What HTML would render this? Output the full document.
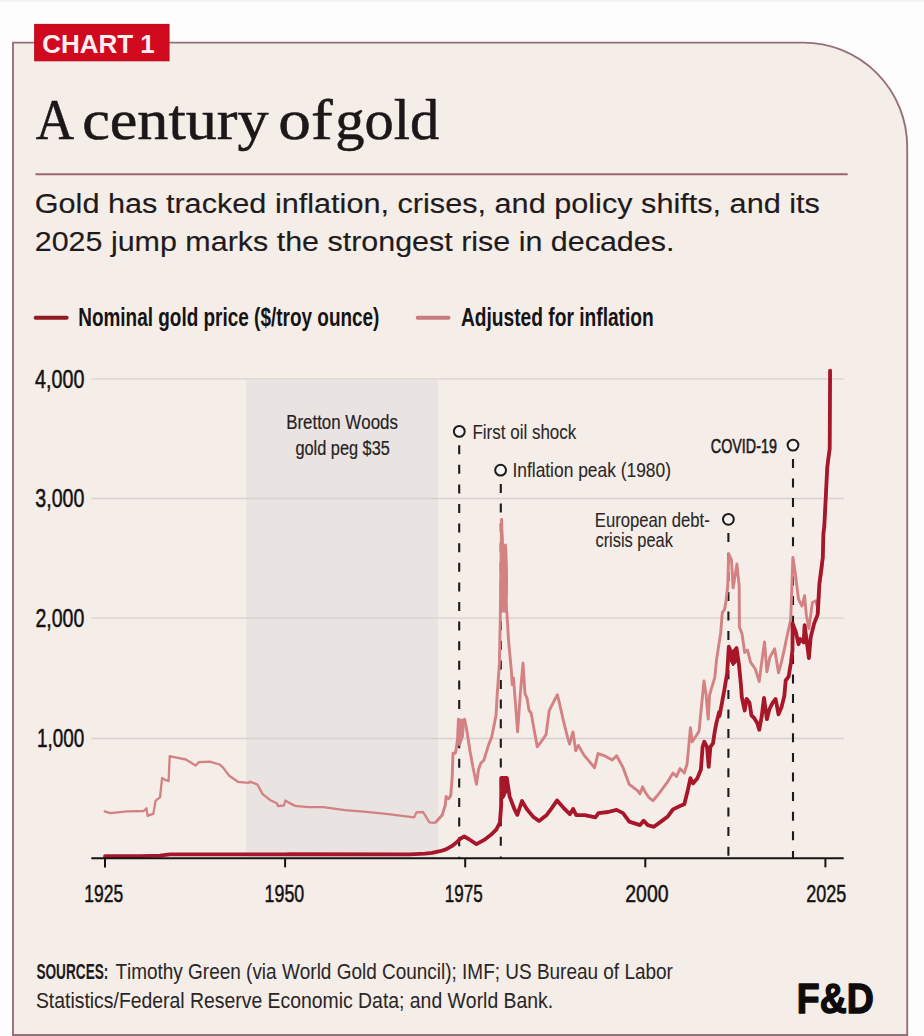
<!DOCTYPE html>
<html><head><meta charset="utf-8"><title>A century of gold</title>
<style>
html,body{margin:0;padding:0;background:#fefdfd;}
body{width:924px;height:1036px;overflow:hidden;position:relative;}
svg{position:absolute;left:0;top:0;display:block;}
text{font-family:"Liberation Sans", Arial, sans-serif;font-kerning:none;}
.serif{font-family:"Liberation Serif", "Times New Roman", serif;}
</style></head><body>
<svg width="924" height="1036" viewBox="0 0 924 1036">
<path d="M13 1035 L13 42.6 L803.2 42.6 A104 104 0 0 1 907.2 146.6 L907.2 1035 Z" fill="#f5ede8" stroke="#94707a" stroke-width="1.9"/>
<rect x="0" y="0" width="924" height="1.6" fill="#f1f0f0"/>
<rect x="34.7" y="24.4" width="134.3" height="36.4" fill="#d1091e" stroke="#b70517" stroke-width="1"/>
<text x="42.13" y="52.6" font-size="26.31" font-weight="bold" fill="#fdeef2" textLength="112.69" lengthAdjust="spacingAndGlyphs">CHART 1</text>
<text class="serif" x="35.76" y="138.8" font-size="57.33" fill="#1c1718" stroke="#1c1718" stroke-width="0.55" stroke-linejoin="round" textLength="38.36" lengthAdjust="spacingAndGlyphs">A</text>
<text class="serif" x="82.21" y="138.8" font-size="57.33" fill="#1c1718" stroke="#1c1718" stroke-width="0.55" stroke-linejoin="round" textLength="186.36" lengthAdjust="spacingAndGlyphs">century</text>
<text class="serif" x="278.29" y="138.8" font-size="57.33" fill="#1c1718" stroke="#1c1718" stroke-width="0.55" stroke-linejoin="round" textLength="54.33" lengthAdjust="spacingAndGlyphs">of</text>
<text class="serif" x="335.36" y="138.8" font-size="57.33" fill="#1c1718" stroke="#1c1718" stroke-width="0.55" stroke-linejoin="round" textLength="103.87" lengthAdjust="spacingAndGlyphs">gold</text>
<line x1="35.5" y1="174.2" x2="847.7" y2="174.2" stroke="#9a6470" stroke-width="2"/>
<text x="34.73" y="213.3" font-size="28.13" fill="#1f1b1c" stroke="#1f1b1c" stroke-width="0.15" stroke-linejoin="round" textLength="785.20" lengthAdjust="spacingAndGlyphs">Gold has tracked inflation, crises, and policy shifts, and its</text>
<text x="34.74" y="251" font-size="28.13" fill="#1f1b1c" stroke="#1f1b1c" stroke-width="0.15" stroke-linejoin="round" textLength="639.66" lengthAdjust="spacingAndGlyphs">2025 jump marks the strongest rise in decades.</text>
<line x1="35.7" y1="317.8" x2="66.6" y2="317.8" stroke="#921b22" stroke-width="4" stroke-linecap="round"/>
<text x="78.23" y="326" font-size="25.00" font-weight="bold" fill="#161314" textLength="301.21" lengthAdjust="spacingAndGlyphs">Nominal gold price ($/troy ounce)</text>
<line x1="417.7" y1="317.7" x2="448.5" y2="317.7" stroke="#c97a7c" stroke-width="4" stroke-linecap="round"/>
<text x="460.92" y="326" font-size="25.00" font-weight="bold" fill="#161314" textLength="192.87" lengthAdjust="spacingAndGlyphs">Adjusted for inflation</text>
<rect x="246.2" y="379.5" width="191.8" height="478.7" fill="#e9e4e2"/>
<line x1="91.4" y1="378.8" x2="843.7" y2="378.8" stroke="#d8d0cd" stroke-width="1.3"/>
<line x1="91.4" y1="498.5" x2="843.7" y2="498.5" stroke="#d8d0cd" stroke-width="1.3"/>
<line x1="91.4" y1="618.2" x2="843.7" y2="618.2" stroke="#d8d0cd" stroke-width="1.3"/>
<line x1="91.4" y1="738.5" x2="843.7" y2="738.5" stroke="#d8d0cd" stroke-width="1.3"/>
<text x="35.10" y="387.6" font-size="24.85" fill="#141112" stroke="#141112" stroke-width="0.5" stroke-linejoin="round" textLength="49.22" lengthAdjust="spacingAndGlyphs">4,000</text>
<text x="35.30" y="507.3" font-size="24.85" fill="#141112" stroke="#141112" stroke-width="0.5" stroke-linejoin="round" textLength="49.01" lengthAdjust="spacingAndGlyphs">3,000</text>
<text x="35.47" y="627.0" font-size="24.85" fill="#141112" stroke="#141112" stroke-width="0.5" stroke-linejoin="round" textLength="48.84" lengthAdjust="spacingAndGlyphs">2,000</text>
<text x="37.01" y="747.3" font-size="24.85" fill="#141112" stroke="#141112" stroke-width="0.5" stroke-linejoin="round" textLength="47.28" lengthAdjust="spacingAndGlyphs">1,000</text>
<text x="286.21" y="428.9" font-size="20.93" fill="#262223" stroke="#262223" stroke-width="0.2" stroke-linejoin="round" textLength="111.70" lengthAdjust="spacingAndGlyphs">Bretton Woods</text>
<text x="295.41" y="454.6" font-size="19.33" fill="#262223" stroke="#262223" stroke-width="0.2" stroke-linejoin="round" textLength="94.47" lengthAdjust="spacingAndGlyphs">gold peg $35</text>
<line x1="459.2" y1="445.2" x2="459.2" y2="858.2" stroke="#1d1a1b" stroke-width="2.1" stroke-dasharray="9 10.6"/>
<line x1="500.8" y1="484.0" x2="500.8" y2="858.2" stroke="#1d1a1b" stroke-width="2.1" stroke-dasharray="9 10.6"/>
<line x1="728.4" y1="533.1" x2="728.4" y2="858.2" stroke="#1d1a1b" stroke-width="2.1" stroke-dasharray="9 10.6"/>
<line x1="793.0" y1="458.9" x2="793.0" y2="858.2" stroke="#1d1a1b" stroke-width="2.1" stroke-dasharray="9 10.6"/>
<polyline points="104.7,811.4 110.2,813.2 127.5,811.4 143.7,811 146.5,808.2 147.6,815.8 153.4,813.6 155.6,800.6 160,797.4 162.1,777.9 165.3,780 168.6,781.1 169.7,756.2 172.9,756.9 185.9,759.5 195.6,765.5 198.9,762.1 209.7,761.6 219.5,764.5 222.7,767.1 229.2,775.7 237.9,781.8 248.7,782.9 249.8,781.6 257.3,784.4 262.7,794.1 270.3,800.2 276.8,803.2 277.9,806 283.9,805.5 285.4,800.5 288.7,802.6 295.2,805.9 308.1,807.2 323.3,807.2 344.9,810.2 366.6,811.9 388.2,814.1 414.2,817.4 416.4,812.4 422.9,812 425,815.2 429.4,822.3 433.7,822.8 436,822 442.2,815" fill="none" stroke="#d38183" stroke-width="2.3" stroke-linejoin="round" stroke-linecap="round"/>
<polyline points="436,822 442.2,815 445.3,805 446.1,796.5 448.4,798.8 450.7,795.8 452.2,777.2 453,753.3 455.3,753.3 456.1,749.4 457.6,738.6 458.4,719.3 461,722 464.6,719.3 466.9,730.9 470,751 473.1,768 476.5,784.2 478.5,769.5 480.8,763.3 483.9,760.2 488.6,744.8 491.7,737.1 496,715.4 497.2,694.4 499.4,663.6 500.3,617 501,560 501.6,519.5 502.5,560 503.5,548 505.5,545 506.5,580 505.5,600 507,614 508.5,640 511.5,672.4 512.2,684.6 513.5,677.8 517.6,731.9 520.3,694 523,663 525,694 527,698 529,710.3 531.1,713 537.2,746.8 540.5,742.7 546,734.6 549.3,710.3 554.1,700.8 557.4,694.7 559.5,703.5 563.5,721.1 567.6,737.3 569.6,744 573,731.9 575.7,750.8 578.4,745.4 583.8,754.9 594.6,767.7 598,753.5 605.4,756.2 612.3,760 616.6,755.8 623,767.4 629.3,784.4 637.8,790.8 640,793.8 642.6,786.8 645.2,792.1 648.7,797.3 653,800.7 657.4,795.5 662.6,788.6 667.8,781.6 673,773 676.5,776.4 680,768.6 684.3,773 687,764.3 688.7,746.9 690.4,727.8 692.2,741.7 695.7,736.5 699.1,731.2 700.9,712.1 702.6,694.8 704,680.9 706.1,694.8 708.2,719.1 709.6,694.8 712.2,686.1 714.8,677.4 716.5,660 720.7,632.7 722.3,612.6 724.6,609.5 726.1,600.2 727.7,586.3 728.7,553.9 731.5,560.1 733.1,587.9 734.6,578.6 736.9,563.9 739.2,586.3 739.4,626.9 742,633.8 744.7,652.5 747.5,650 750.5,662.2 755.3,669 759.2,681.5 762.1,659.3 764.5,642 766.9,671.9 769.8,657.4 774.6,648.7 778.5,672.8 781.4,662.2 784.3,649.7 786.2,640 790.7,619.9 792.9,557.4 795,571.3 798.5,599.1 802,606 804.6,595.6 806.3,614.7 808.9,628.6 812.4,602.5 815.9,600.8 818.5,613 819.4,585 821.7,572 822.8,557.4 823.4,533.7 824.3,526 825.9,495.1 827.2,468.1 828.6,456.5 829.7,448.8 830.1,370.6" fill="none" stroke="#d38183" stroke-width="2.9" stroke-linejoin="round" stroke-linecap="round"/>
<polygon points="457.6,744 458.4,719.3 464.6,719.3 463.5,736 460,746" fill="#d38183" stroke="#d38183" stroke-width="1" stroke-linejoin="round"/>
<polygon points="500.8,600 501.6,519.5 502.6,530 503.5,546 506.5,546 507.5,580 507,612 501,612" fill="#d38183" stroke="#d38183" stroke-width="1" stroke-linejoin="round"/>
<polyline points="105,856.2 140,856.2 160,855.6 170,854.3 250,854.3 285,854.4 290,854.2 409.9,854.3 425,853.6 432.1,852.9 440,851.2 446,849.4 452.1,845.9 456.4,842.5 459.9,839 464.2,836.4 468.6,839 476.4,844.2 484.2,839.9 491.2,834.6 496.4,829.4 499.9,822.5 501.2,805 501.3,777.8 506.8,777.8 509.6,796.4 514.2,808.7 517.3,814.9 522,801 526.6,808.7 532.8,816.4 539,821.1 546.7,814.9 551.4,808.7 557.1,800.4 563.5,807.8 569.9,814.2 573.1,808.9 576.2,815.2 584.7,815.2 595.4,817.4 598.5,813.1 608.1,812 616.6,809.9 623,813.1 629.3,821.6 640,825.1 643.5,820.7 647.8,825.1 653.9,826.8 660.9,821.6 667.8,816.4 673,809.4 680,806 684.3,804.2 687.8,790.3 690.4,778.2 693,783.4 697.4,778.2 700.9,769.5 702.6,746.9 704.3,741.7 707,746.9 708.7,766.9 710.4,746.9 713,743.4 714.8,731.2 716.5,722.6 719.1,712.1 719.5,716.1 724.1,691.4 727.2,672.8 728.8,646.6 731.9,654.3 736.5,648.1 738.9,664.1 740.8,683.4 741.8,697 744.7,710.5 746.6,698.9 749.5,702.7 751.4,715.3 754.3,718.2 757.2,723 759.2,729.8 761.6,717.2 764,697.9 766.9,719.2 769.3,709.5 772.7,702.7 775.6,698.9 778.5,714.3 781.4,707.6 784.3,696 785.7,680.5 788.6,676.7 791,662.2 792.5,649.7 792.6,623.4 795.9,632.1 798.5,644.2 800.2,639 803.7,642.4 804.6,625.1 808.9,658.1 810.7,637.3 814.2,623.4 817.6,614.7 819.4,583.5 822.8,557.4 823.4,533.7 824.3,526 825.9,495.1 827.2,468.1 828.6,456.5 829.7,448.8 830.1,370.6" fill="none" stroke="#a8162a" stroke-width="3.8" stroke-linejoin="round" stroke-linecap="round"/>
<polygon points="500.6,800 501.3,777.8 506.8,777.8 507.6,790 504,798" fill="#a8162a" stroke="#a8162a" stroke-width="1" stroke-linejoin="round"/>
<polygon points="728.6,646 731,651 736.9,648.1 738.5,660 733,666 729.5,660" fill="#a8162a" stroke="#a8162a" stroke-width="1" stroke-linejoin="round"/>
<circle cx="459.3" cy="431.4" r="5.4" fill="#f7f4f5" stroke="#1d1a1b" stroke-width="2"/>
<circle cx="500.6" cy="470.2" r="5.4" fill="#f7f4f5" stroke="#1d1a1b" stroke-width="2"/>
<circle cx="728.4" cy="519.3" r="5.4" fill="#f7f4f5" stroke="#1d1a1b" stroke-width="2"/>
<circle cx="793" cy="445.1" r="5.4" fill="#f7f4f5" stroke="#1d1a1b" stroke-width="2"/>
<text x="472.46" y="439.1" font-size="20.93" fill="#2a2627" stroke="#2a2627" stroke-width="0.1" stroke-linejoin="round" textLength="103.87" lengthAdjust="spacingAndGlyphs">First oil shock</text>
<text x="512.45" y="477" font-size="20.93" fill="#2a2627" stroke="#2a2627" stroke-width="0.1" stroke-linejoin="round" textLength="158.48" lengthAdjust="spacingAndGlyphs">Inflation peak (1980)</text>
<text x="710.87" y="452.6" font-size="20.06" fill="#1d1a1b" stroke="#1d1a1b" stroke-width="0.6" stroke-linejoin="round" textLength="66.00" lengthAdjust="spacingAndGlyphs">COVID-19</text>
<text x="594.78" y="527" font-size="20.93" fill="#2a2627" stroke="#2a2627" stroke-width="0.1" stroke-linejoin="round" textLength="115.01" lengthAdjust="spacingAndGlyphs">European debt-</text>
<text x="595.45" y="547.3" font-size="20.93" fill="#2a2627" stroke="#2a2627" stroke-width="0.1" stroke-linejoin="round" textLength="77.47" lengthAdjust="spacingAndGlyphs">crisis peak</text>
<line x1="91.3" y1="858.2" x2="843.7" y2="858.2" stroke="#161314" stroke-width="2"/>
<line x1="105.0" y1="858.2" x2="105.0" y2="867.4" stroke="#161314" stroke-width="2"/>
<text x="84.32" y="902.3" font-size="24.71" fill="#141112" stroke="#141112" stroke-width="0.5" stroke-linejoin="round" textLength="38.86" lengthAdjust="spacingAndGlyphs">1925</text>
<line x1="285.1" y1="858.2" x2="285.1" y2="867.4" stroke="#161314" stroke-width="2"/>
<text x="264.59" y="902.3" font-size="24.71" fill="#141112" stroke="#141112" stroke-width="0.5" stroke-linejoin="round" textLength="39.65" lengthAdjust="spacingAndGlyphs">1950</text>
<line x1="465.2" y1="858.2" x2="465.2" y2="867.4" stroke="#161314" stroke-width="2"/>
<text x="444.65" y="902.3" font-size="24.71" fill="#141112" stroke="#141112" stroke-width="0.5" stroke-linejoin="round" textLength="38.02" lengthAdjust="spacingAndGlyphs">1975</text>
<line x1="645.3" y1="858.2" x2="645.3" y2="867.4" stroke="#161314" stroke-width="2"/>
<text x="625.27" y="902.3" font-size="24.71" fill="#141112" stroke="#141112" stroke-width="0.5" stroke-linejoin="round" textLength="43.24" lengthAdjust="spacingAndGlyphs">2000</text>
<line x1="825.4" y1="858.2" x2="825.4" y2="867.4" stroke="#161314" stroke-width="2"/>
<text x="806.24" y="902.3" font-size="24.71" fill="#141112" stroke="#141112" stroke-width="0.5" stroke-linejoin="round" textLength="40.06" lengthAdjust="spacingAndGlyphs">2025</text>
<text x="36.41" y="979.4" font-size="22.09" font-weight="bold" fill="#1e1a1b" textLength="72.01" lengthAdjust="spacingAndGlyphs">SOURCES:</text>
<text x="115.40" y="979.4" font-size="22.02" fill="#2a2627" stroke="#2a2627" stroke-width="0.05" stroke-linejoin="round" textLength="557.49" lengthAdjust="spacingAndGlyphs">Timothy Green (via World Gold Council); IMF; US Bureau of Labor</text>
<text x="35.94" y="1008.2" font-size="22.02" fill="#2a2627" stroke="#2a2627" stroke-width="0.05" stroke-linejoin="round" textLength="517.20" lengthAdjust="spacingAndGlyphs">Statistics/Federal Reserve Economic Data; and World Bank.</text>
<text x="796.80" y="1012.5" font-size="41.86" font-weight="bold" fill="#0d0b0c" stroke="#0d0b0c" stroke-width="1.4" stroke-linejoin="round" textLength="76.87" lengthAdjust="spacingAndGlyphs">F&amp;D</text>
</svg>
</body></html>
